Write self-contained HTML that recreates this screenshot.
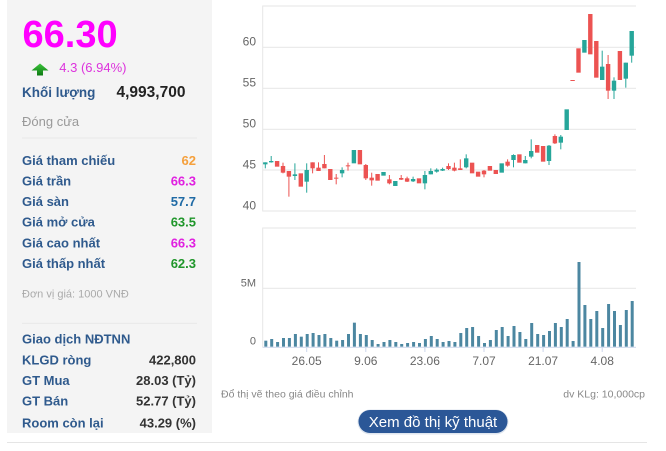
<!DOCTYPE html>
<html><head><meta charset="utf-8"><style>
html,body{margin:0;padding:0;background:#fff;}
svg{display:block;font-family:"Liberation Sans",Arial,sans-serif;}
</style></head><body>
<svg width="666" height="451" viewBox="0 0 666 451" xmlns="http://www.w3.org/2000/svg">
<defs>
<linearGradient id="ag" x1="0" y1="0" x2="0" y2="1"><stop offset="0" stop-color="#3cc43c"/><stop offset="1" stop-color="#0d7a12"/></linearGradient>
</defs>
<!-- left panel -->
<rect x="7" y="0" width="205" height="433" fill="#f4f4f4"/>
<text x="22.5" y="47" font-size="38" font-weight="bold" fill="#ff00ff">66.30</text>
<polygon points="40,63.5 48.5,70.5 43,70.5 43,75.5 37,75.5 37,70.5 31.5,70.5" fill="url(#ag)"/>
<text x="59.3" y="72" font-size="13" fill="#dd33dd">4.3 (6.94%)</text>
<text x="22" y="97" font-size="13.5" font-weight="bold" fill="#2f5a8d">Khối lượng</text>
<text x="116.5" y="97" font-size="15.5" font-weight="bold" fill="#222">4,993,700</text>
<text x="22" y="126" font-size="13" fill="#999">Đóng cửa</text>
<rect x="22" y="137.5" width="175" height="1" fill="#e8e8e8"/>
<g font-size="13" font-weight="bold" fill="#2f5a8d">
<text x="22" y="165">Giá tham chiếu</text>
<text x="22" y="185.5">Giá trần</text>
<text x="22" y="206">Giá sàn</text>
<text x="22" y="226.7">Giá mở cửa</text>
<text x="22" y="247.3">Giá cao nhất</text>
<text x="22" y="268">Giá thấp nhất</text>
</g>
<g font-size="13" font-weight="bold" text-anchor="end">
<text x="196" y="165" fill="#f5a03c">62</text>
<text x="196" y="185.5" fill="#e020e0">66.3</text>
<text x="196" y="206" fill="#1f6aa5">57.7</text>
<text x="196" y="226.7" fill="#1f962a">63.5</text>
<text x="196" y="247.3" fill="#e020e0">66.3</text>
<text x="196" y="268" fill="#1f962a">62.3</text>
</g>
<text x="22" y="297.5" font-size="11" fill="#aaa">Đơn vị giá: 1000 VNĐ</text>
<rect x="22" y="322.8" width="175" height="1" fill="#e8e8e8"/>
<g font-size="13" font-weight="bold" fill="#2f5a8d">
<text x="22" y="343.3">Giao dịch NĐTNN</text>
<text x="22" y="364.3">KLGD ròng</text>
<text x="22" y="385">GT Mua</text>
<text x="22" y="405.7">GT Bán</text>
<text x="22" y="427.3">Room còn lại</text>
</g>
<g font-size="13" font-weight="bold" text-anchor="end" fill="#333">
<text x="196" y="364.3">422,800</text>
<text x="196" y="385">28.03 (Tỷ)</text>
<text x="196" y="405.7">52.77 (Tỷ)</text>
<text x="196" y="427.3">43.29 (%)</text>
</g>
<rect x="7" y="442" width="640" height="1" fill="#e5e5e5"/>

<!-- price grid -->
<g fill="#e6e6e6">
<rect x="262.7" y="5.5" width="373.3" height="1"/>
<rect x="262.7" y="46.8" width="373.3" height="1"/>
<rect x="262.7" y="87.8" width="373.3" height="1"/>
<rect x="262.7" y="128.8" width="373.3" height="1"/>
<rect x="262.7" y="169.5" width="373.3" height="1"/>
<rect x="262.7" y="210.5" width="373.3" height="1"/>
<rect x="262.2" y="5.5" width="1" height="206"/>
<rect x="262.7" y="227.5" width="373.3" height="1"/>
<rect x="262.7" y="287.8" width="373.3" height="1"/>
<rect x="262.2" y="227.5" width="1" height="120"/>
</g>
<rect x="262.7" y="346.8" width="373.3" height="1" fill="#ccd6eb"/>
<g font-size="12" fill="#666" text-anchor="end">
<text x="256" y="45.7">60</text>
<text x="256" y="86.7">55</text>
<text x="256" y="127.7">50</text>
<text x="256" y="168.5">45</text>
<text x="256" y="209.5">40</text>
</g>
<g font-size="11" fill="#666" text-anchor="end">
<text x="256" y="286.5">5M</text>
<text x="256" y="344.5">0</text>
</g>
<g fill="#ccd6eb">
<rect x="306.2" y="347" width="1" height="5"/>
<rect x="365.3" y="347" width="1" height="5"/>
<rect x="424.4" y="347" width="1" height="5"/>
<rect x="483.5" y="347" width="1" height="5"/>
<rect x="542.6" y="347" width="1" height="5"/>
<rect x="601.7" y="347" width="1" height="5"/>
</g>
<g font-size="12" fill="#666" text-anchor="middle">
<text x="306.7" y="365">26.05</text>
<text x="365.8" y="365">9.06</text>
<text x="424.9" y="365">23.06</text>
<text x="484" y="365">7.07</text>
<text x="543.1" y="365">21.07</text>
<text x="602.2" y="365">4.08</text>
</g>

<!-- candles teal -->
<g transform="scale(1 0.333333)" fill="#26a69a">
<rect x="263.1" y="487" width="4.4" height="6"/><rect x="264.8" y="487" width="1" height="18"/>
<rect x="269.0" y="483" width="4.4" height="4"/><rect x="270.7" y="468" width="1" height="20"/>
<rect x="292.7" y="523" width="4.4" height="5"/><rect x="294.4" y="490" width="1" height="50"/>
<rect x="304.5" y="510" width="4.4" height="35"/><rect x="306.2" y="490" width="1" height="88"/>
<rect x="339.9" y="510" width="4.4" height="10"/><rect x="341.6" y="502" width="1" height="30"/>
<rect x="351.7" y="450" width="4.4" height="40"/>
<rect x="381.3" y="516" width="4.4" height="11"/>
<rect x="393.1" y="543" width="4.4" height="15"/>
<rect x="410.9" y="537" width="4.4" height="7"/><rect x="412.6" y="530" width="1" height="16"/>
<rect x="422.7" y="525" width="4.4" height="25"/><rect x="424.4" y="513" width="1" height="55"/>
<rect x="428.6" y="513" width="4.4" height="10"/><rect x="430.3" y="505" width="1" height="18"/>
<rect x="434.5" y="509" width="4.4" height="6"/><rect x="436.2" y="505" width="1" height="13"/>
<rect x="440.4" y="507" width="4.4" height="5"/><rect x="442.1" y="503" width="1" height="10"/>
<rect x="464.0" y="475" width="4.4" height="27"/><rect x="465.7" y="463" width="1" height="42"/>
<rect x="499.5" y="490" width="4.4" height="28"/>
<rect x="511.3" y="465" width="4.4" height="15"/><rect x="513.0" y="463" width="1" height="39"/>
<rect x="523.1" y="480" width="4.4" height="10"/><rect x="524.8" y="468" width="1" height="22"/>
<rect x="529.0" y="453" width="4.4" height="17"/><rect x="530.7" y="418" width="1" height="57"/>
<rect x="546.8" y="437" width="4.4" height="46"/><rect x="548.5" y="435" width="1" height="60"/>
<rect x="558.6" y="410" width="4.4" height="18"/><rect x="560.3" y="405" width="1" height="43"/>
<rect x="564.5" y="328" width="4.4" height="62"/>
<rect x="582.2" y="120" width="4.4" height="38"/>
<rect x="600.0" y="200" width="4.4" height="40"/><rect x="601.7" y="152" width="1" height="88"/>
<rect x="611.8" y="242" width="4.4" height="30"/><rect x="613.5" y="232" width="1" height="65"/>
<rect x="623.6" y="188" width="4.4" height="48"/><rect x="625.3" y="188" width="1" height="75"/>
<rect x="629.5" y="93" width="4.4" height="74"/><rect x="631.2" y="93" width="1" height="95"/>
</g>
<!-- candles red -->
<g transform="scale(1 0.333333)" fill="#ec5352">
<rect x="274.9" y="483" width="4.4" height="17"/>
<rect x="280.8" y="498" width="4.4" height="20"/><rect x="282.5" y="488" width="1" height="32"/>
<rect x="286.7" y="513" width="4.4" height="17"/><rect x="288.4" y="513" width="1" height="77"/>
<rect x="298.6" y="520" width="4.4" height="40"/>
<rect x="310.4" y="487" width="4.4" height="18"/><rect x="312.1" y="487" width="1" height="33"/>
<rect x="316.3" y="503" width="4.4" height="10"/><rect x="318.0" y="487" width="1" height="26"/>
<rect x="322.2" y="492" width="4.4" height="13"/><rect x="323.9" y="465" width="1" height="40"/>
<rect x="328.1" y="507" width="4.4" height="33"/>
<rect x="334.0" y="533" width="4.4" height="3"/><rect x="335.7" y="522" width="1" height="31"/>
<rect x="345.8" y="496" width="4.4" height="3"/><rect x="347.5" y="488" width="1" height="24"/>
<rect x="357.7" y="450" width="4.4" height="43"/>
<rect x="363.6" y="495" width="4.4" height="40"/><rect x="365.3" y="492" width="1" height="48"/>
<rect x="369.5" y="533" width="4.4" height="8"/><rect x="371.2" y="518" width="1" height="39"/>
<rect x="375.4" y="522" width="4.4" height="20"/>
<rect x="387.2" y="538" width="4.4" height="12"/><rect x="388.9" y="525" width="1" height="28"/>
<rect x="399.0" y="534" width="4.4" height="5"/><rect x="400.7" y="525" width="1" height="15"/>
<rect x="404.9" y="535" width="4.4" height="10"/><rect x="406.6" y="530" width="1" height="16"/>
<rect x="416.8" y="535" width="4.4" height="15"/>
<rect x="446.3" y="498" width="4.4" height="9"/><rect x="448.0" y="490" width="1" height="20"/>
<rect x="452.2" y="503" width="4.4" height="9"/><rect x="453.9" y="488" width="1" height="26"/>
<rect x="458.1" y="505" width="4.4" height="5"/><rect x="459.8" y="478" width="1" height="32"/>
<rect x="469.9" y="488" width="4.4" height="32"/>
<rect x="475.9" y="515" width="4.4" height="15"/>
<rect x="481.8" y="512" width="4.4" height="11"/><rect x="483.5" y="510" width="1" height="22"/>
<rect x="487.7" y="498" width="4.4" height="14"/>
<rect x="493.6" y="510" width="4.4" height="12"/>
<rect x="505.4" y="485" width="4.4" height="12"/><rect x="507.1" y="478" width="1" height="22"/>
<rect x="517.2" y="463" width="4.4" height="25"/>
<rect x="535.0" y="435" width="4.4" height="23"/>
<rect x="540.9" y="438" width="4.4" height="47"/>
<rect x="552.7" y="408" width="4.4" height="22"/><rect x="554.4" y="403" width="1" height="29"/>
<rect x="570.4" y="240" width="4.4" height="3"/>
<rect x="576.3" y="145" width="4.4" height="73"/>
<rect x="588.1" y="42" width="4.4" height="121"/>
<rect x="594.1" y="123" width="4.4" height="110"/>
<rect x="605.9" y="192" width="4.4" height="80"/><rect x="607.6" y="165" width="1" height="132"/>
<rect x="617.7" y="153" width="4.4" height="87"/>
</g>

<!-- volume -->
<g transform="translate(0 220) scale(1 0.333333)" fill="#4c87a1">
<rect x="264.3" y="362" width="3" height="18"/>
<rect x="270.2" y="357" width="3" height="23"/>
<rect x="276.1" y="366" width="3" height="14"/>
<rect x="282.0" y="354" width="3" height="26"/>
<rect x="287.9" y="354" width="3" height="26"/>
<rect x="293.9" y="342" width="3" height="38"/>
<rect x="299.8" y="350" width="3" height="30"/>
<rect x="305.7" y="342" width="3" height="38"/>
<rect x="311.6" y="339" width="3" height="41"/>
<rect x="317.5" y="345" width="3" height="35"/>
<rect x="323.4" y="342" width="3" height="38"/>
<rect x="329.3" y="354" width="3" height="26"/>
<rect x="335.2" y="362" width="3" height="18"/>
<rect x="341.1" y="360" width="3" height="20"/>
<rect x="347.0" y="342" width="3" height="38"/>
<rect x="352.9" y="308" width="3" height="72"/>
<rect x="358.9" y="342" width="3" height="38"/>
<rect x="364.8" y="345" width="3" height="35"/>
<rect x="370.7" y="360" width="3" height="20"/>
<rect x="376.6" y="372" width="3" height="8"/>
<rect x="382.5" y="366" width="3" height="14"/>
<rect x="388.4" y="360" width="3" height="20"/>
<rect x="394.3" y="366" width="3" height="14"/>
<rect x="400.2" y="372" width="3" height="8"/>
<rect x="406.1" y="369" width="3" height="11"/>
<rect x="412.1" y="366" width="3" height="14"/>
<rect x="418.0" y="369" width="3" height="11"/>
<rect x="423.9" y="357" width="3" height="23"/>
<rect x="429.8" y="348" width="3" height="32"/>
<rect x="435.7" y="357" width="3" height="23"/>
<rect x="441.6" y="366" width="3" height="14"/>
<rect x="447.5" y="363" width="3" height="17"/>
<rect x="453.4" y="366" width="3" height="14"/>
<rect x="459.3" y="339" width="3" height="41"/>
<rect x="465.2" y="324" width="3" height="56"/>
<rect x="471.1" y="321" width="3" height="59"/>
<rect x="477.1" y="348" width="3" height="32"/>
<rect x="483.0" y="369" width="3" height="11"/>
<rect x="488.9" y="360" width="3" height="20"/>
<rect x="494.8" y="330" width="3" height="50"/>
<rect x="500.7" y="321" width="3" height="59"/>
<rect x="506.6" y="348" width="3" height="32"/>
<rect x="512.5" y="318" width="3" height="62"/>
<rect x="518.4" y="336" width="3" height="44"/>
<rect x="524.3" y="357" width="3" height="23"/>
<rect x="530.2" y="309" width="3" height="71"/>
<rect x="536.2" y="342" width="3" height="38"/>
<rect x="542.1" y="345" width="3" height="35"/>
<rect x="548.0" y="333" width="3" height="47"/>
<rect x="553.9" y="309" width="3" height="71"/>
<rect x="559.8" y="321" width="3" height="59"/>
<rect x="565.7" y="297" width="3" height="83"/>
<rect x="571.6" y="363" width="3" height="17"/>
<rect x="577.5" y="126" width="3" height="254"/>
<rect x="583.4" y="255" width="3" height="125"/>
<rect x="589.3" y="297" width="3" height="83"/>
<rect x="595.3" y="273" width="3" height="107"/>
<rect x="601.2" y="324" width="3" height="56"/>
<rect x="607.1" y="252" width="3" height="128"/>
<rect x="613.0" y="273" width="3" height="107"/>
<rect x="618.9" y="315" width="3" height="65"/>
<rect x="624.8" y="270" width="3" height="110"/>
<rect x="630.7" y="243" width="3" height="137"/>
</g>

<!-- footer of chart -->
<text x="221" y="397.5" font-size="10.5" fill="#888">Đổ thị vẽ theo giá điều chỉnh</text>
<text x="645" y="397.5" font-size="10.5" fill="#888" text-anchor="end">dv KLg: 10,000cp</text>
<rect x="357.5" y="409.5" width="151" height="25" rx="12.5" fill="#dfe6ef"/>
<rect x="358.5" y="410" width="149" height="23" rx="11.5" fill="#2b5797"/>
<text x="433" y="427" font-size="15" fill="#fff" text-anchor="middle">Xem đồ thị kỹ thuật</text>
</svg>
</body></html>
